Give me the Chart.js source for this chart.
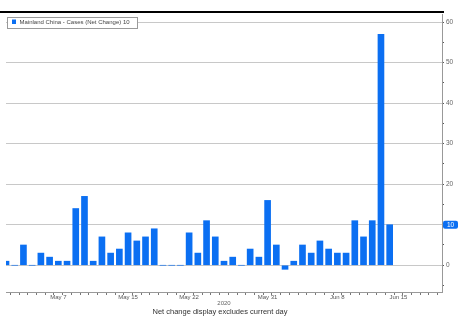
<!DOCTYPE html>
<html>
<head>
<meta charset="utf-8">
<script src="https://cdn.jsdelivr.net/npm/chart.js@4.4.0/dist/chart.umd.min.js"></script>
<style>
  html, body { margin: 0; padding: 0; background: #fff; }
</style>
</head>
<body>
<canvas id="myChart" width="458" height="317"></canvas>
<script>

// x axis days, May 1 .. Jun 20 2020 (one slot per day)
var dayLabels = [
  "May 1","May 2","May 3","May 4","May 5","May 6","May 7","May 8","May 9","May 10",
  "May 11","May 12","May 13","May 14","May 15","May 16","May 17","May 18","May 19","May 20",
  "May 21","May 22","May 23","May 24","May 25","May 26","May 27","May 28","May 29","May 30",
  "May 31","Jun 1","Jun 2","Jun 3","Jun 4","Jun 5","Jun 6","Jun 7","Jun 8","Jun 9",
  "Jun 10","Jun 11","Jun 12","Jun 13","Jun 14","Jun 15","Jun 16","Jun 17","Jun 18","Jun 19",
  "Jun 20"
];

// only these days get a printed label
var tickDays = ["May 7", "May 15", "May 22", "May 31", "Jun 8", "Jun 15"];

// net change in cases per day
var netChange = [
  1, 0, 5, 0, 3, 2, 1, 1, 14, 17,
  1, 7, 3, 4, 8, 6, 7, 9, 0, 0,
  0, 8, 3, 11, 7, 1, 2, 0, 4, 2,
  16, 5, -1, 1, 5, 3, 6, 4, 3, 3,
  11, 7, 11, 57, 10
];

var seriesName = "Mainland China - Cases (Net Change)";
var footNote = "Net change display excludes current day";
var yearLabel = "2020";

var barBlue = '#0b6ff2';
var lastValue = netChange[netChange.length - 1];

Chart.defaults.font.family = "'Liberation Sans', Arial, sans-serif";

// extra bits the bloomberg screen has: top rule, boxed legend, last value badge, footnote
var screenExtras = {
  id: 'screenExtras',
  beforeDraw: function (chart) {
    var ctx = chart.ctx;
    ctx.save();
    ctx.fillStyle = '#fff';
    ctx.fillRect(0, 0, chart.width, chart.height);
    ctx.fillStyle = '#000';
    ctx.fillRect(0, 11, 444, 2);
    ctx.restore();
  },
  afterDraw: function (chart) {
    var ctx = chart.ctx;
    var area = chart.chartArea;
    ctx.save();

    // legend box
    ctx.fillStyle = '#fff';
    ctx.fillRect(7.5, 17.5, 130, 11);
    ctx.strokeStyle = '#9a9a9a';
    ctx.lineWidth = 1;
    ctx.strokeRect(7.5, 17.5, 130, 11);
    ctx.fillStyle = barBlue;
    ctx.fillRect(12, 19.5, 4, 4.5);
    ctx.fillStyle = '#444';
    ctx.font = "6px 'Liberation Sans', Arial, sans-serif";
    ctx.textBaseline = 'middle';
    ctx.textAlign = 'left';
    ctx.fillText(chart.data.datasets[0].label + ' ' + lastValue, 19.5, 22.5);

    // last value badge on the right axis
    var ys = chart.scales.y;
    var py = ys.getPixelForValue(lastValue);
    ctx.fillStyle = barBlue;
    ctx.beginPath();
    ctx.roundRect(ys.left + 1, py - 4, 15, 8, 2);
    ctx.fill();
    ctx.fillStyle = '#fff';
    ctx.font = "6.5px 'Liberation Sans', Arial, sans-serif";
    ctx.textAlign = 'center';
    ctx.fillText(String(lastValue), ys.left + 8.5, py + 0.5);

    // footnote under the axis, centred on the plot not the canvas
    ctx.fillStyle = '#333';
    ctx.font = "7.5px 'Liberation Sans', Arial, sans-serif";
    ctx.textAlign = 'center';
    ctx.fillText(footNote, (area.left + area.right) / 2 - 4, chart.height - 5);

    ctx.restore();
  } // END afterDraw
};

var canvas = document.getElementById("myChart");
var setup = {
  type: 'bar',
  data: {
    labels: dayLabels,
    datasets: [{
      label: seriesName,
      data: netChange,
      backgroundColor: barBlue,
      borderWidth: 0,
      barThickness: 6
    }]
  },
  options: {
    responsive: false,
    devicePixelRatio: 1,
    animation: false,
    layout: { padding: { left: 6, top: 14, right: 0, bottom: 10 } },
    plugins: {
      legend: { display: false },
      tooltip: { enabled: false },
      title: { display: false }
    },
    scales: {
      x: {
        offset: false,
        grid: { drawOnChartArea: false, tickLength: 3, tickColor: '#777' },
        border: { color: '#999' },
        ticks: {
          autoSkip: false,
          maxRotation: 0,
          minRotation: 0,
          padding: -1,
          color: '#555',
          font: { size: 6 },
          callback: function (val, i) {
            var l = dayLabels[i];
            return tickDays.indexOf(l) >= 0 ? l : '';
          }
        },
        title: { display: true, text: yearLabel, color: '#666', font: { size: 6 }, padding: 0 },
        afterFit: function (s) { s.height = 15; }
      },
      y: {
        position: 'right',
        min: -6.6,
        max: 62,
        grid: {
          color: function (c) {
            return (c.tick && c.tick.value % 10 === 0) ? '#c8c8c8' : 'rgba(0,0,0,0)';
          },
          tickLength: 2,
          tickColor: '#555'
        },
        border: { color: '#999' },
        ticks: {
          stepSize: 5,
          includeBounds: false,
          padding: 2,
          color: '#666',
          font: { size: 6.5 },
          callback: function (v) {
            if (v % 10 !== 0 || v === lastValue) return '';
            return v;
          }
        },
        afterFit: function (s) { s.width = 16; }
      }
    }
  },
  plugins: [screenExtras]
};

var chart = new Chart(canvas, setup);
</script>
</body>
</html>
